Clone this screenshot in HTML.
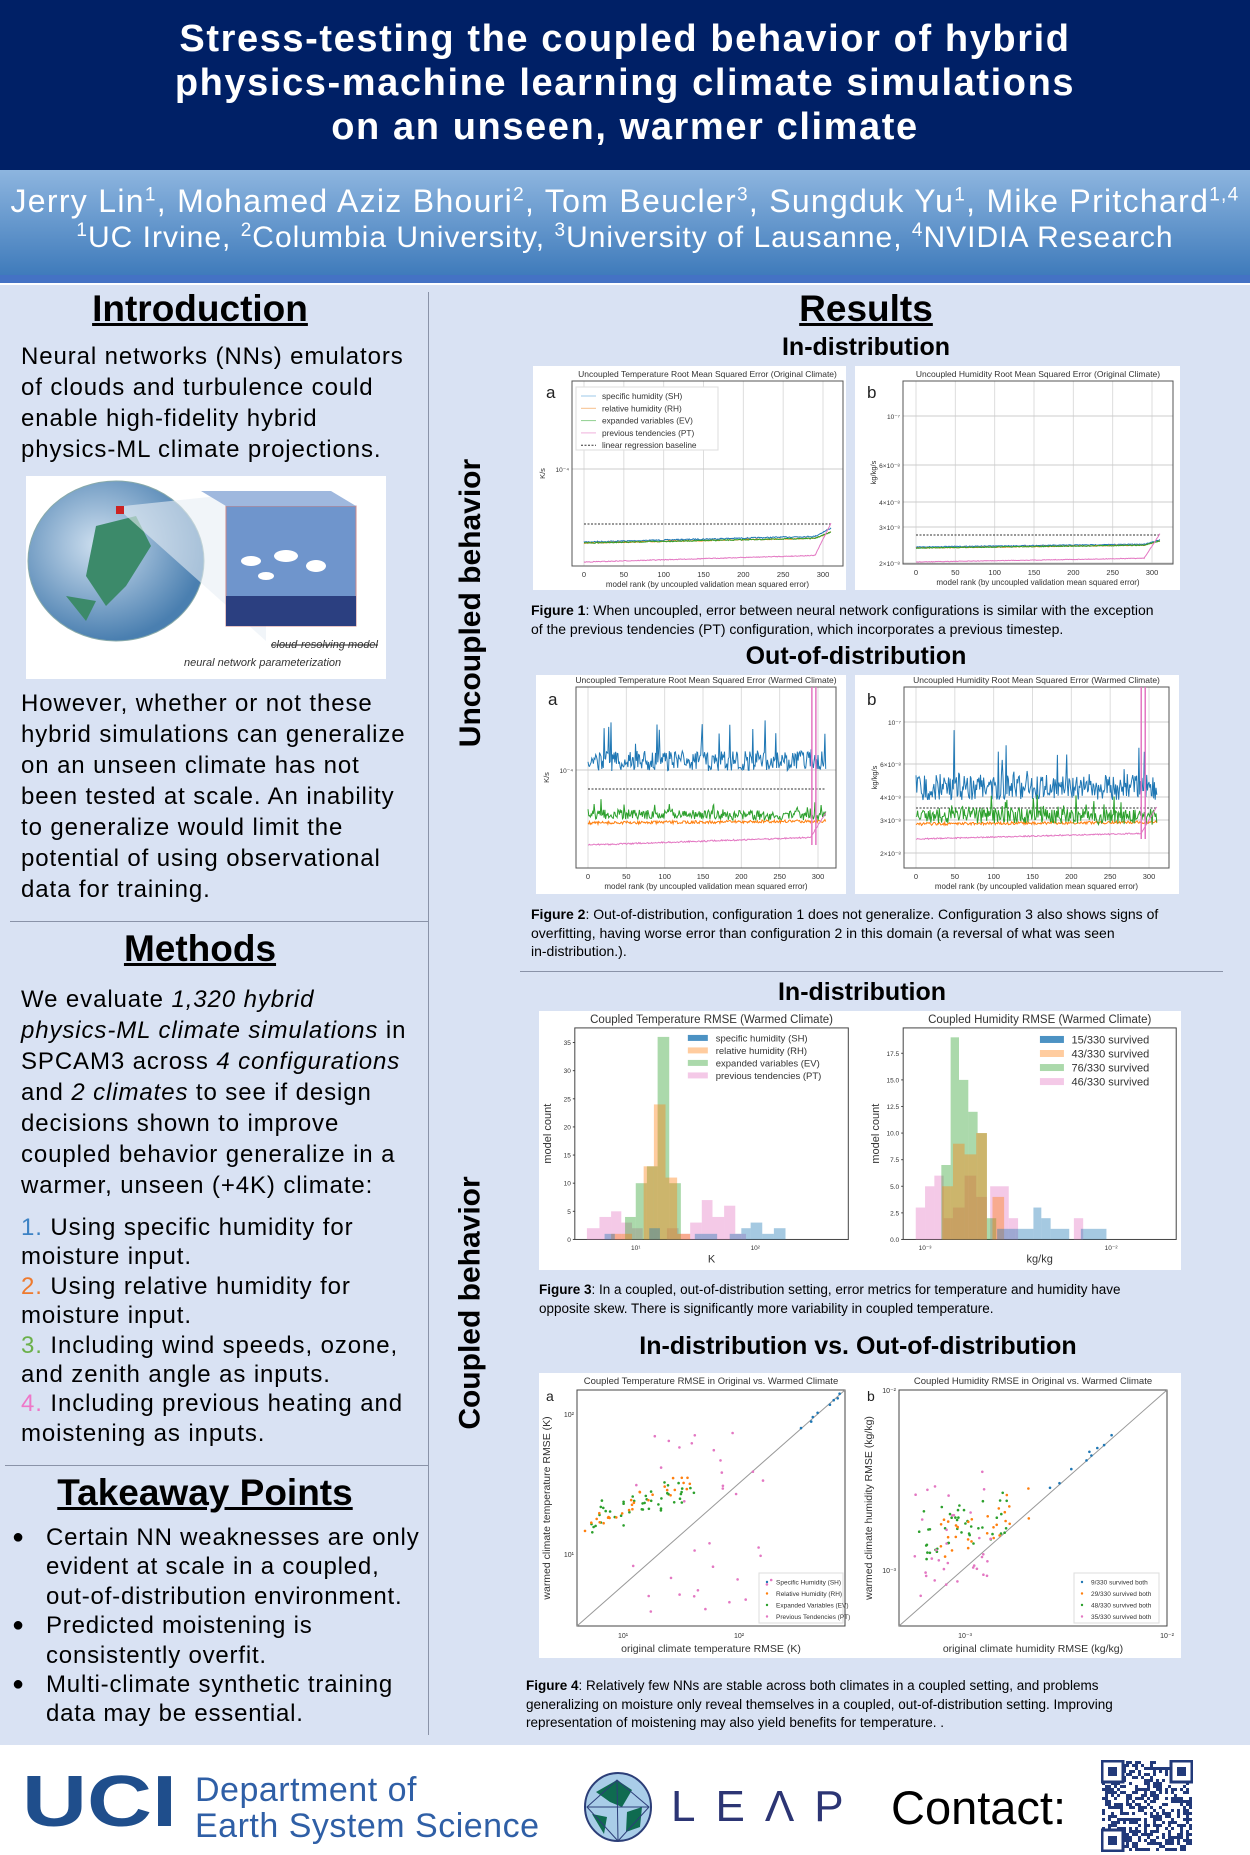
<!DOCTYPE html>
<html><head><meta charset="utf-8">
<style>
*{margin:0;padding:0;box-sizing:border-box}
body{width:1250px;height:1855px;position:relative;background:#fff;font-family:"Liberation Sans",Arial,sans-serif;overflow:hidden;color:#000}
.abs{position:absolute}
#hdr{left:0;top:0;width:1250px;height:170px;background:#002066}
#band{left:0;top:170px;width:1250px;height:105px;background:linear-gradient(#8db5df,#3f7bbb)}
#bline{left:0;top:275px;width:1250px;height:8px;background:#4472c4}
#content{left:0;top:285px;width:1250px;height:1460px;background:#d9e2f3}
.title{left:0;width:1250px;text-align:center;color:#fff;font-weight:bold;font-size:38px;line-height:44px;letter-spacing:1.6px}
.auth{left:0;width:1250px;text-align:center;color:#fff;white-space:nowrap}
.auth sup{font-size:19px}
.h{font-weight:bold;text-decoration:underline;font-size:37px;text-align:center;white-space:nowrap}
.txt{font-size:24px;line-height:31px;white-space:nowrap;letter-spacing:.9px;left:21px}
.vl{font-weight:bold;font-size:30px;white-space:nowrap;transform:rotate(-90deg);font-family:"Liberation Sans Narrow","Liberation Sans",sans-serif}
.sh{font-weight:bold;font-size:25px;text-align:center;white-space:nowrap;font-family:"Liberation Sans Narrow","Liberation Sans",sans-serif}
.cap{font-size:14px;line-height:18.5px;white-space:nowrap}
.panel{background:#fff}
.bl{position:relative;padding-left:26px}
.bl:before{content:"●";position:absolute;left:-8px;top:0;font-size:20px}
svg text{font-family:"Liberation Sans",sans-serif}
</style></head><body>
<div id="hdr" class="abs"></div>
<div id="band" class="abs"></div>
<div id="bline" class="abs"></div>
<div id="content" class="abs"></div>

<div class="abs title" style="top:17px">Stress-testing the coupled behavior of hybrid<br>physics-machine learning climate simulations<br>on an unseen, warmer climate</div>
<div class="abs auth" style="top:183px;font-size:32px;letter-spacing:1.3px">Jerry Lin<sup>1</sup>, Mohamed Aziz Bhouri<sup>2</sup>, Tom Beucler<sup>3</sup>, Sungduk Yu<sup>1</sup>, Mike Pritchard<sup>1,4</sup></div>
<div class="abs auth" style="top:220px;font-size:30px;letter-spacing:1px"><sup>1</sup>UC Irvine, <sup>2</sup>Columbia University, <sup>3</sup>University of Lausanne, <sup>4</sup>NVIDIA Research</div>

<!-- dividers -->
<div class="abs" style="left:428px;top:292px;width:1px;height:1443px;background:#8a93a8"></div>
<div class="abs" style="left:10px;top:921px;width:418px;height:1px;background:#8a93a8"></div>
<div class="abs" style="left:5px;top:1465px;width:423px;height:1px;background:#8a93a8"></div>
<div class="abs" style="left:520px;top:971px;width:703px;height:1px;background:#8a93a8"></div>

<!-- left column -->
<div class="abs h" style="left:0;width:400px;top:288px">Introduction</div>
<div class="abs txt" style="top:341px">Neural networks (NNs) emulators<br>of clouds and turbulence could<br>enable high-fidelity hybrid<br>physics-ML climate projections.</div>

<div class="abs" style="left:26px;top:476px;width:360px;height:203px;background:#fff">
<svg width="360" height="203">
<defs><radialGradient id="g1" cx="40%" cy="40%" r="60%"><stop offset="0" stop-color="#cfe0f0"/><stop offset="1" stop-color="#4a7fb0"/></radialGradient></defs>
<ellipse cx="90" cy="85" rx="88" ry="80" fill="url(#g1)" stroke="#8aa" />
<path d="M70 50 L110 40 L125 70 L100 110 L80 130 L60 100 Z" fill="#3c8a6a"/>
<path d="M40 120 L70 125 L60 145 Z" fill="#3c8a6a"/>
<rect x="90" y="30" width="8" height="8" fill="#c22"/>
<polygon points="98,30 240,15 240,165 98,38" fill="#e8eef5" opacity=".6"/>
<rect x="200" y="30" width="130" height="120" fill="#6f95cc" stroke="#c88"/>
<polygon points="175,15 200,30 330,30 305,15" fill="#9fb8de"/>
<g fill="#fff"><ellipse cx="225" cy="85" rx="10" ry="5"/><ellipse cx="260" cy="80" rx="12" ry="6"/><ellipse cx="290" cy="90" rx="10" ry="6"/><ellipse cx="240" cy="100" rx="8" ry="4"/></g>
<rect x="200" y="120" width="130" height="30" fill="#2b3f80"/>
<text x="245" y="172" font-size="11" font-style="italic" fill="#333" text-decoration="line-through">cloud-resolving model</text>
<text x="158" y="190" font-size="11" font-style="italic" fill="#333">neural network parameterization</text>
</svg></div>

<div class="abs txt" style="top:688px">However, whether or not these<br>hybrid simulations can generalize<br>on an unseen climate has not<br>been tested at scale. An inability<br>to generalize would limit the<br>potential of using observational<br>data for training.</div>

<div class="abs h" style="left:0;width:400px;top:928px">Methods</div>
<div class="abs txt" style="top:984px">We evaluate <i>1,320 hybrid</i><br><i>physics-ML climate simulations</i> in<br>SPCAM3 across <i>4 configurations</i><br>and <i>2 climates</i> to see if design<br>decisions shown to improve<br>coupled behavior generalize in a<br>warmer, unseen (+4K) climate:</div>
<div class="abs txt" style="top:1213px;line-height:29.4px"><span style="color:#3c82c4">1.</span> Using specific humidity for<br>moisture input.<br><span style="color:#ee7a2e">2.</span> Using relative humidity for<br>moisture input.<br><span style="color:#6bb04a">3.</span> Including wind speeds, ozone,<br>and zenith angle as inputs.<br><span style="color:#ee77c8">4.</span> Including previous heating and<br>moistening as inputs.</div>

<div class="abs h" style="left:0;width:410px;top:1472px">Takeaway Points</div>
<div class="abs txt" style="top:1523px;left:20px;line-height:29.4px;letter-spacing:.8px">
<div class="bl">Certain NN weaknesses are only<br>evident at scale in a coupled,<br>out-of-distribution environment.</div>
<div class="bl">Predicted moistening is<br>consistently overfit.</div>
<div class="bl">Multi-climate synthetic training<br>data may be essential.</div></div>

<!-- vertical labels -->
<div class="abs" style="left:456px;top:450px;width:30px;height:306px;display:flex;align-items:center;justify-content:center"><div class="vl">Uncoupled behavior</div></div>
<div class="abs" style="left:456px;top:1168px;width:30px;height:270px;display:flex;align-items:center;justify-content:center"><div class="vl">Coupled behavior</div></div>

<!-- results -->
<div class="abs h" style="left:766px;width:200px;top:288px">Results</div>
<div class="abs sh" style="left:716px;width:300px;top:333px">In-distribution</div>
<div class="abs panel" style="left:533px;top:366px;width:313px;height:224px"><svg id="f1a" width="313" height="224"></svg></div>
<div class="abs panel" style="left:855px;top:366px;width:325px;height:224px"><svg id="f1b" width="325" height="224"></svg></div>
<div class="abs cap" style="left:531px;top:601px"><b>Figure 1</b>: When uncoupled, error between neural network configurations is similar with the exception<br>of the previous tendencies (PT) configuration, which incorporates a previous timestep.</div>
<div class="abs sh" style="left:706px;width:300px;top:642px">Out-of-distribution</div>
<div class="abs panel" style="left:536px;top:675px;width:310px;height:219px"><svg id="f2a" width="310" height="219"></svg></div>
<div class="abs panel" style="left:855px;top:675px;width:324px;height:219px"><svg id="f2b" width="324" height="219"></svg></div>
<div class="abs cap" style="left:531px;top:905px"><b>Figure 2</b>: Out-of-distribution, configuration 1 does not generalize. Configuration 3 also shows signs of<br>overfitting, having worse error than configuration 2 in this domain (a reversal of what was seen<br>in-distribution.).</div>

<div class="abs sh" style="left:712px;width:300px;top:978px">In-distribution</div>
<div class="abs panel" style="left:539px;top:1011px;width:642px;height:259px"><svg id="f3" width="642" height="259"></svg></div>
<div class="abs cap" style="left:539px;top:1281px;font-size:13.5px"><b>Figure 3</b>: In a coupled, out-of-distribution setting, error metrics for temperature and humidity have<br>opposite skew. There is significantly more variability in coupled temperature.</div>
<div class="abs sh" style="left:558px;width:600px;top:1332px">In-distribution vs. Out-of-distribution</div>
<div class="abs panel" style="left:539px;top:1373px;width:642px;height:285px"><svg id="f4" width="642" height="285"></svg></div>
<div class="abs cap" style="left:526px;top:1677px;font-size:13.5px"><b>Figure 4</b>: Relatively few NNs are stable across both climates in a coupled setting, and problems<br>generalizing on moisture only reveal themselves in a coupled, out-of-distribution setting. Improving<br>representation of moistening may also yield benefits for temperature. .</div>

<!-- footer -->
<div class="abs" style="left:22px;top:1766px;font-size:90px;font-weight:900;color:#1f4e8c;letter-spacing:0px;line-height:90px;transform:scaleY(.8);transform-origin:top left">UCI</div>
<div class="abs" style="left:195px;top:1772px;font-size:34px;line-height:36px;color:#2f5fa6;white-space:nowrap;letter-spacing:.5px">Department of<br>Earth System Science</div>
<svg class="abs" style="left:582px;top:1772px" width="72" height="70">
<ellipse cx="36" cy="35" rx="33" ry="34" fill="#a9cde8" stroke="#2c3e78" stroke-width="2"/>
<path d="M14 20 L35 8 L50 18 L40 35 L28 30 Z M45 40 L60 35 L58 55 L44 60 Z M10 42 L25 45 L22 62 Z" fill="#0f6b50"/>
<path d="M5 35 L35 8 L67 35 L36 69 Z M35 8 L36 69 M5 35 L67 35" stroke="#2c3e78" fill="none"/>
</svg>
<div class="abs" style="left:671px;top:1782px;font-size:44px;color:#2c3574;letter-spacing:20px;white-space:nowrap">LE&#923;P</div>
<div class="abs" style="left:891px;top:1780px;font-size:47px;white-space:nowrap">Contact:</div>
<svg id="qr" class="abs" style="left:1101px;top:1760px" width="92" height="92"></svg>

<script>
var seed=7;function R(){seed=(seed*16807)%2147483647;return (seed-1)/2147483646;}
var C={b:"#1f77b4",o:"#ff7f0e",g:"#2ca02c",p:"#e377c2"};
function lineChart(id,o){
 var s=document.getElementById(id),h="";
 var L=o.box[0],T=o.box[1],Rr=o.box[2],B=o.box[3];
 h+='<text x="'+((L+Rr)/2)+'" y="'+(T-4)+'" font-size="8.5" text-anchor="middle" fill="#333">'+o.title+'</text>';
 h+='<text x="'+o.lab[0]+'" y="'+o.lab[1]+'" font-size="17" fill="#222">'+o.lbl+'</text>';
 for(var k=0;k<=6;k++){var x=o.x0+(o.x300-o.x0)*k/6;h+='<line x1="'+x+'" y1="'+T+'" x2="'+x+'" y2="'+B+'" stroke="#ddd"/>';h+='<text x="'+x+'" y="'+(B+11)+'" font-size="7.5" text-anchor="middle" fill="#333">'+(k*50)+'</text>';}
 o.hg.forEach(function(g){h+='<line x1="'+L+'" y1="'+g[0]+'" x2="'+Rr+'" y2="'+g[0]+'" stroke="#ccc"/><text x="'+(L-3)+'" y="'+(g[0]+3)+'" font-size="6.5" text-anchor="end" fill="#333">'+g[1]+'</text>';});
 h+='<text x="'+((L+Rr)/2)+'" y="'+(B+21)+'" font-size="8" text-anchor="middle" fill="#333">model rank (by uncoupled validation mean squared error)</text>';
 h+='<text transform="translate('+(L-27)+','+((T+B)/2)+') rotate(-90)" font-size="7.5" text-anchor="middle" fill="#333">'+o.yl+'</text>';
 h+='<rect x="'+L+'" y="'+T+'" width="'+(Rr-L)+'" height="'+(B-T)+'" fill="none" stroke="#555"/>';
 h+='<line x1="'+o.x0+'" y1="'+o.dash+'" x2="'+(o.x0+(o.x300-o.x0)*310/300)+'" y2="'+o.dash+'" stroke="#333" stroke-dasharray="2,1.5"/>';
 o.ser.forEach(function(q){var pts=[];for(var i=0;i<=310;i++){var x=o.x0+(o.x300-o.x0)*i/300;var y=q.y+(q.sl||0)*i/310;y+=(R()-.5)*2*q.n;if(q.sp&&R()<q.sp)y-=R()*q.sa;if(q.tail&&i>290)y-=(i-290)*q.tail;pts.push(x.toFixed(1)+","+y.toFixed(1));}
  h+='<polyline points="'+pts.join(" ")+'" fill="none" stroke="'+q.c+'" stroke-width="'+(q.w||1)+'"/>';});
 if(o.vspike){var x=o.x0+(o.x300-o.x0)*o.vspike/300;h+='<line x1="'+x+'" y1="'+T+'" x2="'+x+'" y2="'+o.ser[3].y+'" stroke="'+C.p+'" stroke-width="1.5"/><line x1="'+(x+4)+'" y1="'+T+'" x2="'+(x+4)+'" y2="'+o.ser[3].y+'" stroke="'+C.p+'" stroke-width="1.5"/>';}
 if(o.leg){var lx=L+4,ly=T+6;h+='<rect x="'+lx+'" y="'+ly+'" width="142" height="63" fill="#fff" stroke="#ddd"/>';
  [["specific humidity (SH)","#9cc8e8"],["relative humidity (RH)","#f7c08a"],["expanded variables (EV)","#8fd08f"],["previous tendencies (PT)","#f0b0dc"],["linear regression baseline","#333"]].forEach(function(e,i){var yy=ly+9+i*12.3;h+='<line x1="'+(lx+5)+'" y1="'+yy+'" x2="'+(lx+20)+'" y2="'+yy+'" stroke="'+e[1]+'" '+(i==4?'stroke-dasharray="2,1.5"':'')+'/><text x="'+(lx+26)+'" y="'+(yy+3)+'" font-size="8.3" fill="#333">'+e[0]+'</text>';});}
 s.innerHTML=h;
}
lineChart("f1a",{box:[39,15,310,200],x0:51,x300:290,title:"Uncoupled Temperature Root Mean Squared Error (Original Climate)",lab:[13,32],lbl:"a",hg:[[103,"10⁻⁴"]],yl:"K/s",dash:158,leg:1,
 ser:[{c:C.b,y:176,sl:-6,n:.6,tail:.4},{c:C.o,y:177,sl:-5,n:.5,tail:.3},{c:C.g,y:177,sl:-5,n:.5,tail:.3},{c:C.p,y:196,sl:-7,n:.4,tail:1.6}]});
lineChart("f1b",{box:[48,15,318,198],x0:61,x300:297,title:"Uncoupled Humidity Root Mean Squared Error (Original Climate)",lab:[12,32],lbl:"b",hg:[[50,"10⁻⁷"],[99,"6×10⁻⁸"],[136,"4×10⁻⁸"],[161,"3×10⁻⁸"],[197,"2×10⁻⁸"]],yl:"kg/kg/s",dash:169,
 ser:[{c:C.b,y:181,sl:-3,n:.4,tail:.2},{c:C.o,y:182,sl:-3,n:.4,tail:.2},{c:C.g,y:182,sl:-3,n:.4,tail:.2},{c:C.p,y:196,sl:-4,n:.3,tail:1.2}]});
lineChart("f2a",{box:[40,12,300,193],x0:52,x300:282,title:"Uncoupled Temperature Root Mean Squared Error (Warmed Climate)",lab:[12,30],lbl:"a",hg:[[95,"10⁻⁴"]],yl:"K/s",dash:114,vspike:292,
 ser:[{c:C.b,y:86,n:10,sp:.06,sa:40},{c:C.o,y:148,sl:-2,n:1.5},{c:C.g,y:139,sl:2,n:5,sp:.08,sa:12},{c:C.p,y:170,sl:-8,n:.7,tail:1.2}]});
lineChart("f2b",{box:[49,12,314,193],x0:61,x300:294,title:"Uncoupled Humidity Root Mean Squared Error (Warmed Climate)",lab:[12,30],lbl:"b",hg:[[47,"10⁻⁷"],[89,"6×10⁻⁸"],[122,"4×10⁻⁸"],[145,"3×10⁻⁸"],[178,"2×10⁻⁸"]],yl:"kg/kg/s",dash:133,vspike:290,
 ser:[{c:C.b,y:112,n:13,sp:.05,sa:50},{c:C.o,y:149,sl:-2,n:1.5},{c:C.g,y:140,sl:2,n:8,sp:.1,sa:18},{c:C.p,y:164,sl:-6,n:.6,tail:1.3}]});

(function(){var s=document.getElementById("f3"),h="";function X(z){return (z-45)/2.15}function Y(z){return (z-118)/2.6}
 function panel(x1,x2,ticks,ux,t,title,xl,xt){h+='<text x="'+X((x1+x2)/2)+'" y="12" font-size="11.5" text-anchor="middle" fill="#333">'+title+'</text>';
  h+='<rect x="'+X(x1)+'" y="'+Y(162)+'" width="'+(X(x2)-X(x1))+'" height="'+(Y(712)-Y(162))+'" fill="none" stroke="#444"/>';
  ticks.forEach(function(tk){var y=Y(712-tk*ux);h+='<text x="'+(X(x1)-4)+'" y="'+(y+2.5)+'" font-size="6.5" text-anchor="end" fill="#333">'+tk+'</text><line x1="'+(X(x1)-2)+'" y1="'+y+'" x2="'+X(x1)+'" y2="'+y+'" stroke="#444"/>';});
  h+='<text x="'+X((x1+x2)/2)+'" y="'+Y(772)+'" font-size="11" text-anchor="middle" fill="#333">'+xl+'</text>';
  xt.forEach(function(a){h+='<text x="'+X(a[0])+'" y="'+Y(740)+'" font-size="6.5" text-anchor="middle" fill="#333">'+a[1]+'</text>';});
  h+='<text transform="translate('+(X(x1)-24)+','+Y(437)+') rotate(-90)" font-size="11" text-anchor="middle" fill="#333">model count</text>';}
 function bars(list,col,ux){list.forEach(function(b){h+='<rect x="'+X(b[0])+'" y="'+Y(712-b[2]*ux)+'" width="'+(X(b[1])-X(b[0]))+'" height="'+(Y(712)-Y(712-b[2]*ux))+'" fill="'+col+'" fill-opacity=".4"/>';});}
 var u1=14.63,u2=27.66;
 panel(122,710,[0,5,10,15,20,25,30,35],u1,0,"Coupled Temperature RMSE (Warmed Climate)","K",[[253,"10¹"],[510,"10²"]]);
 panel(828,1415,["0.0","2.5","5.0","7.5","10.0","12.5","15.0","17.5"],u2,0,"Coupled Humidity RMSE (Warmed Climate)","kg/kg",[[875,"10⁻³"],[1275,"10⁻²"]]);
 bars([[148,175,2],[175,200,4],[200,222,5],[222,245,3],[245,268,2],[320,345,2],[345,370,1],[370,395,3],[395,418,7],[418,443,4],[443,467,6],[467,490,1]],C.p,u1);
 bars([[230,253,4],[253,277,10],[277,300,13],[300,325,36],[325,350,10]],C.g,u1);
 bars([[200,222,1],[222,245,1],[270,292,13],[292,317,24],[317,342,11],[342,370,1]],C.o,u1);
 bars([[186,208,1],[282,305,2],[380,428,1],[455,480,1],[480,500,2],[500,525,3],[525,550,1],[550,575,2]],C.b,u1);
 bars([[855,875,3],[875,895,5],[895,915,6],[915,935,2],[935,960,3],[960,985,6],[985,1008,4],[1015,1035,5],[1035,1055,5],[1055,1075,2],[1195,1215,2]],C.p,u2);
 bars([[910,930,7],[930,948,19],[948,968,15],[968,988,12],[988,1008,10],[1008,1028,2]],C.g,u2);
 bars([[912,935,5],[935,960,9],[960,985,8],[985,1008,10],[1020,1045,4]],C.o,u2);
 bars([[1030,1070,1],[1070,1108,1],[1108,1125,3],[1125,1145,2],[1145,1185,1],[1210,1265,1]],C.b,u2);
 // stronger blue
 bars([[1108,1125,3],[1125,1145,2],[1145,1185,1],[1210,1265,1],[480,500,2],[500,525,3],[525,550,1],[550,575,2]],C.b,0);
 [[C.b,"specific humidity (SH)"],[C.o,"relative humidity (RH)"],[C.g,"expanded variables (EV)"],[C.p,"previous tendencies (PT)"]].forEach(function(e,i){var y=Y(188+i*32.5);h+='<rect x="'+X(365)+'" y="'+(y-3)+'" width="20" height="6" fill="'+e[0]+'" fill-opacity="'+(i?.4:.8)+'"/><text x="'+X(425)+'" y="'+(y+3.5)+'" font-size="9.5" fill="#333">'+e[1]+'</text>';});
 ["15/330 survived","43/330 survived","76/330 survived","46/330 survived"].forEach(function(t,i){var c=[C.b,C.o,C.g,C.p][i];var y=Y(192+i*36.5);h+='<rect x="'+X(1122)+'" y="'+(y-3.5)+'" width="24" height="7" fill="'+c+'" fill-opacity="'+(i?.4:.8)+'"/><text x="'+X(1190)+'" y="'+(y+4)+'" font-size="11" fill="#333">'+t+'</text>';});
 s.innerHTML=h;})();

(function(){var s=document.getElementById("f4"),h="";
 function panel(L,T,Rr,B,title,lab,xl,yl,leg,xt,yt){h+='<text x="'+((L+Rr)/2)+'" y="11" font-size="9.5" text-anchor="middle" fill="#333">'+title+'</text><text x="'+lab[0]+'" y="'+lab[1]+'" font-size="14" fill="#222">'+lab[2]+'</text>';
  h+='<rect x="'+L+'" y="'+T+'" width="'+(Rr-L)+'" height="'+(B-T)+'" fill="none" stroke="#444"/><line x1="'+L+'" y1="'+B+'" x2="'+Rr+'" y2="'+T+'" stroke="#999"/>';
  h+='<text x="'+((L+Rr)/2)+'" y="'+(B+26)+'" font-size="10.5" text-anchor="middle" fill="#333">'+xl+'</text>';
  h+='<text transform="translate('+(L-27)+','+((T+B)/2)+') rotate(-90)" font-size="10.5" text-anchor="middle" fill="#333">'+yl+'</text>';
  xt.forEach(function(a){h+='<text x="'+a[0]+'" y="'+(B+12)+'" font-size="7" text-anchor="middle" fill="#333">'+a[1]+'</text>';});
  yt.forEach(function(a){h+='<text x="'+(L-3)+'" y="'+a[0]+'" font-size="7" text-anchor="end" fill="#333">'+a[1]+'</text>';});
  var lx=leg[0],ly=leg[1];h+='<rect x="'+lx+'" y="'+ly+'" width="'+leg[2]+'" height="50" fill="#fff" stroke="#ddd"/>';
  leg[3].forEach(function(t,i){var y=ly+9+i*11.5;h+='<circle cx="'+(lx+8)+'" cy="'+y+'" r="1.2" fill="'+[C.b,C.o,C.g,C.p][i]+'"/><text x="'+(lx+17)+'" y="'+(y+2.5)+'" font-size="6.5" fill="#333">'+t+'</text>';});}
 function dots(col,n,fn){for(var i=0;i<n;i++){var p=fn();h+='<circle cx="'+p[0].toFixed(1)+'" cy="'+p[1].toFixed(1)+'" r="1.3" fill="'+col+'"/>';}}
 panel(38,17,306,253,"Coupled Temperature RMSE in Original vs. Warmed Climate",[7,28,"a"],"original climate temperature RMSE (K)","warmed climate temperature RMSE (K)",[220,200,84,["Specific Humidity (SH)","Relative Humidity (RH)","Expanded Variables (EV)","Previous Tendencies (PT)"]],[[84,"10¹"],[200,"10²"]],[[44,"10²"],[184,"10¹"]]);
 panel(360,17,628,253,"Coupled Humidity RMSE in Original vs. Warmed Climate",[328,28,"b"],"original climate humidity RMSE (kg/kg)","warmed climate humidity RMSE (kg/kg)",[535,200,85,["9/330 survived both","29/330 survived both","48/330 survived both","35/330 survived both"]],[[426,"10⁻³"],[628,"10⁻²"]],[[20,"10⁻²"],[200,"10⁻³"]]);
 dots(C.g,45,function(){var x=45+R()*115;return [x,160-R()*30-(x-45)*.35+R()*10];});
 dots(C.o,30,function(){var x=45+R()*110;return [x,150-(x-45)*.4+(R()-.5)*20];});
 dots(C.p,35,function(){var x=90+R()*150;return [x,R()<.5?60+R()*70:170+R()*70];});
 dots(C.b,8,function(){var x=260+R()*45;return [x,253-(x-38)*.88+(R()-.5)*4];});
 dots(C.g,45,function(){var x=378+R()*90;return [x,190-R()*50-(x-378)*.3];});
 dots(C.o,29,function(){var x=400+R()*90;return [x,190-R()*45-(x-400)*.4];});
 dots(C.p,35,function(){var x=372+R()*80;return [x,230-R()*110-(x-372)*.3];});
 dots(C.b,9,function(){var x=480+R()*125;return [x,253-(x-360)*.88-R()*8];});
 s.innerHTML=h;})();

(function(){var s=document.getElementById("qr"),h='<rect width="92" height="92" fill="#fff"/>';for(var i=0;i<30;i++)for(var j=0;j<30;j++){if(R()<.5)h+='<rect x="'+(1+i*3)+'" y="'+(1+j*3)+'" width="3" height="3" fill="#223a7a"/>';}
 [[1,1],[70,1],[1,70]].forEach(function(p){h+='<rect x="'+p[0]+'" y="'+p[1]+'" width="21" height="21" fill="#fff" stroke="#223a7a" stroke-width="3"/><rect x="'+(p[0]+6)+'" y="'+(p[1]+6)+'" width="9" height="9" fill="#223a7a"/>';});s.innerHTML=h;})();
</script>
</body></html>
